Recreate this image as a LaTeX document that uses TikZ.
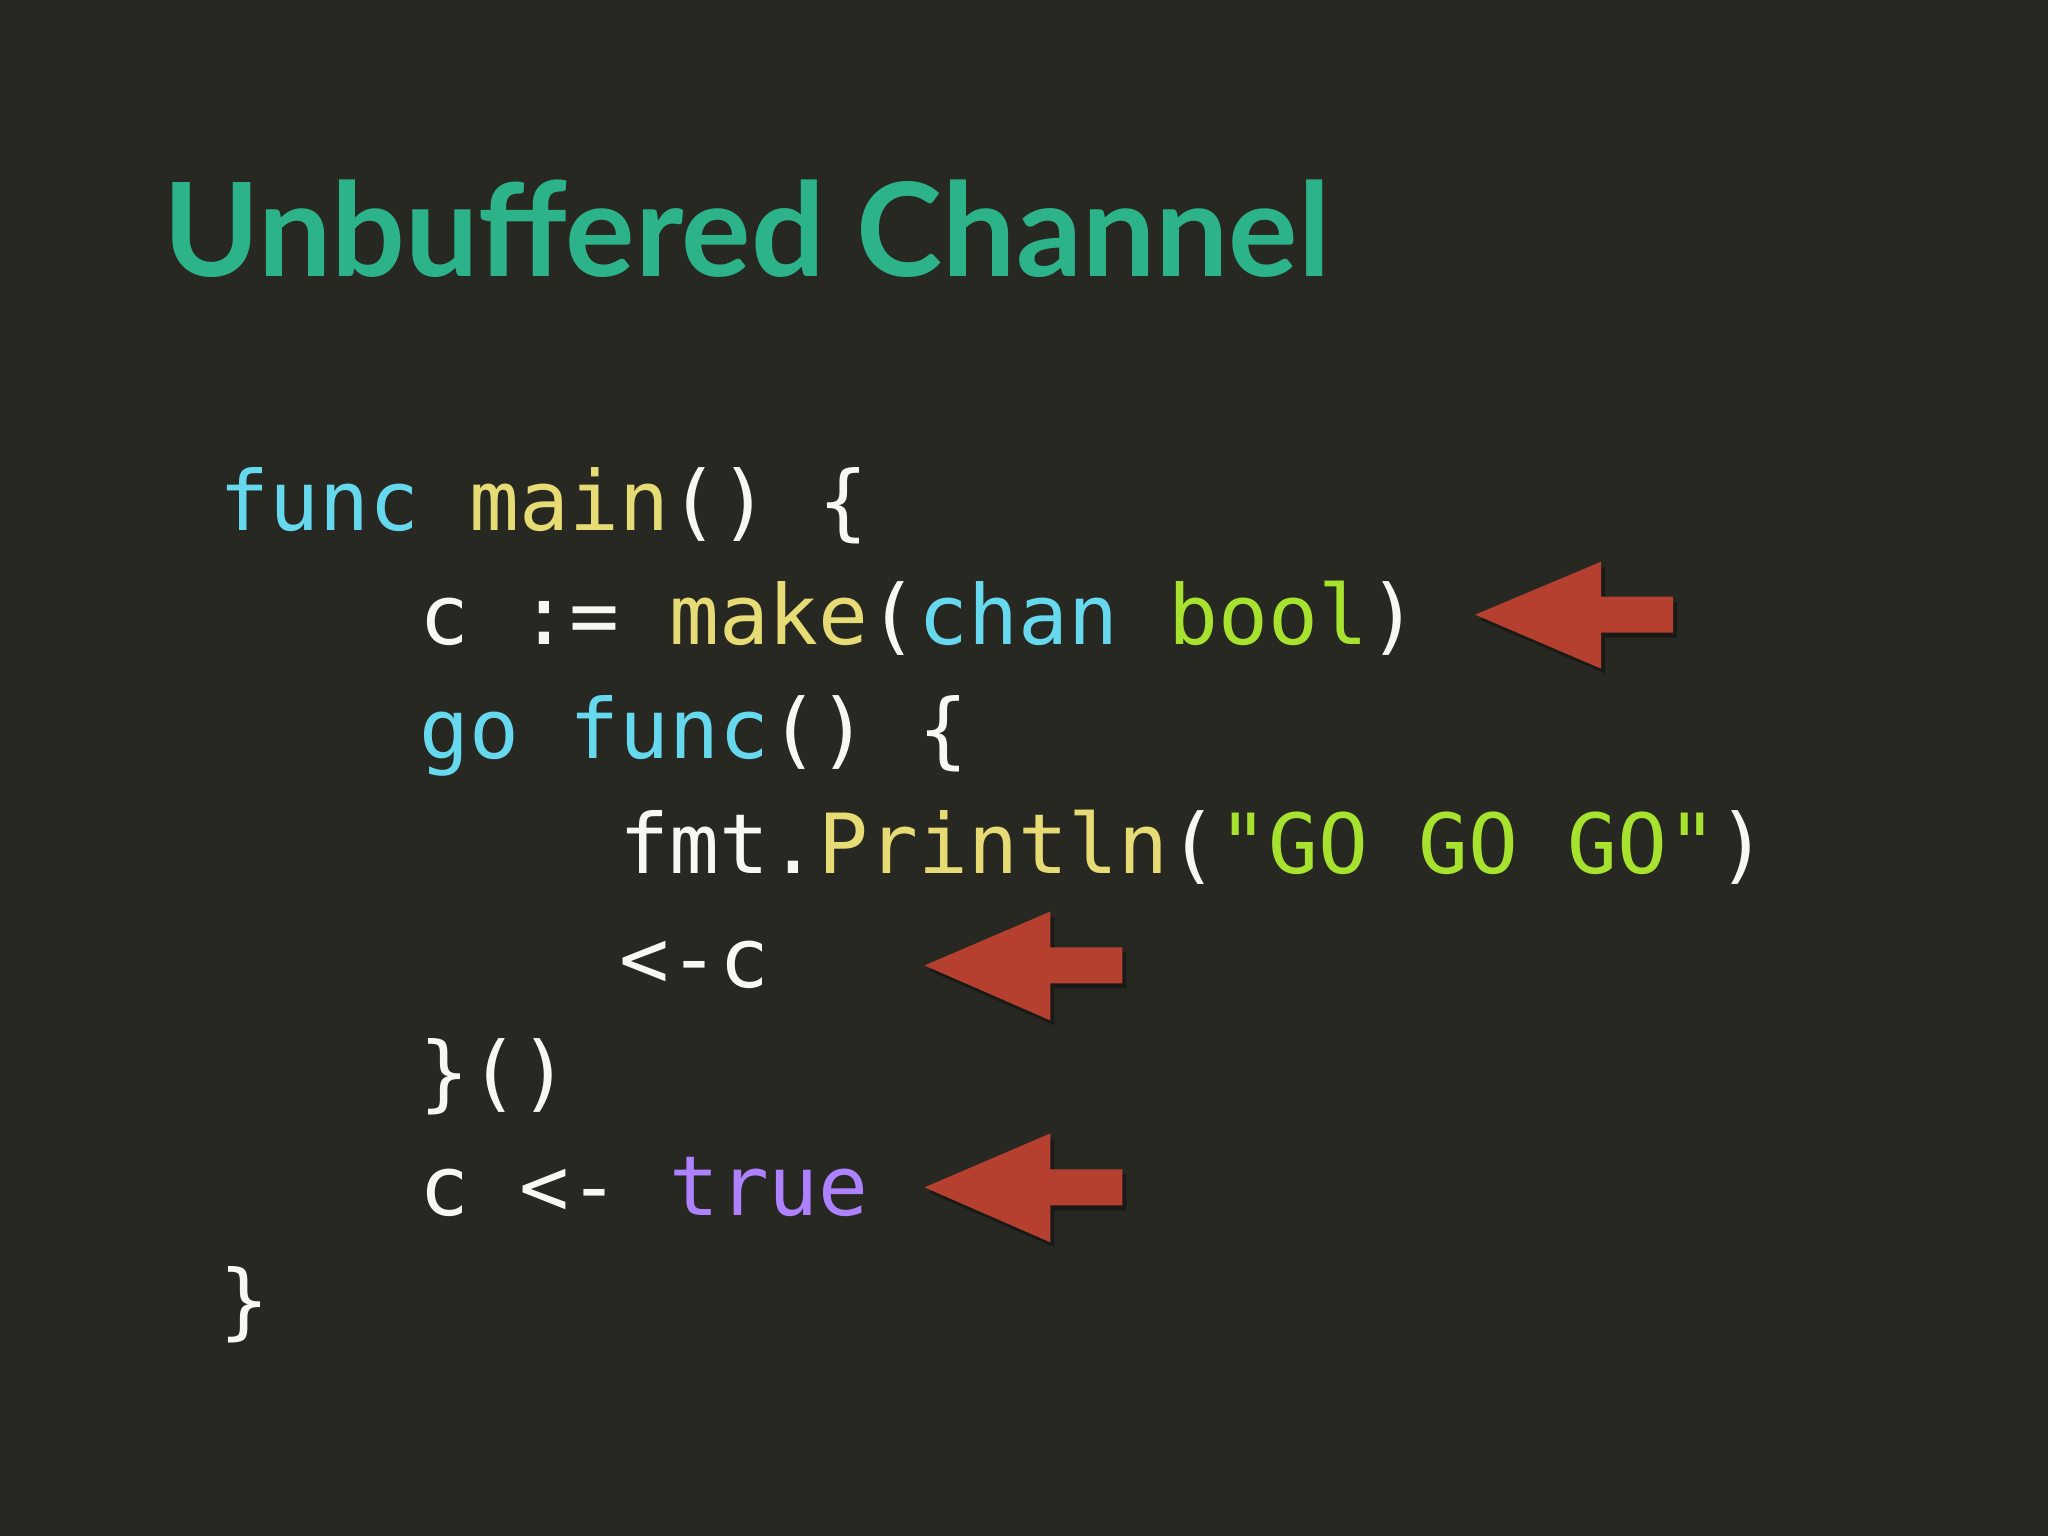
\documentclass[tikz,border=0pt]{standalone}
\usepackage{fontspec}
\setmonofont{DejaVu Sans Mono}
\newfontfamily\titlefont{Lato}
\definecolor{bg}{HTML}{272822}
\definecolor{ttl}{HTML}{2DB38A}
\definecolor{kw}{HTML}{66D9EF}
\definecolor{fn}{HTML}{E6DB74}
\definecolor{gr}{HTML}{A6E22E}
\definecolor{pu}{HTML}{AE81FF}
\definecolor{wt}{HTML}{F8F8F2}
\definecolor{arr}{HTML}{B5402F}
\tikzset{codeline/.style={anchor=base west,inner sep=0pt,text=wt,font=\ttfamily\fontsize{23.6}{28}\selectfont}}
\newcommand\redarrow[4]{% tip x, tip y, head top y, head bottom y (px)
  \fill[black,opacity=0.35] ({(#1+4)*0.01},{-(#2+5)*0.01}) -- ({(#1+130)*0.01},{-(#3+5)*0.01}) -- ({(#1+130)*0.01},{-(#2-13)*0.01}) -- ({(#1+202)*0.01},{-(#2-13)*0.01}) -- ({(#1+202)*0.01},{-(#2+23)*0.01}) -- ({(#1+130)*0.01},{-(#2+23)*0.01}) -- ({(#1+130)*0.01},{-(#4+5)*0.01}) -- cycle;
  \fill[arr] ({#1*0.01},{-#2*0.01}) -- ({(#1+126)*0.01},{-#3*0.01}) -- ({(#1+126)*0.01},{-(#2-18)*0.01}) -- ({(#1+198)*0.01},{-(#2-18)*0.01}) -- ({(#1+198)*0.01},{-(#2+18)*0.01}) -- ({(#1+126)*0.01},{-(#2+18)*0.01}) -- ({(#1+126)*0.01},{-#4*0.01}) -- cycle;}
\begin{document}
\begin{tikzpicture}
\fill[bg] (0,0) rectangle (20.48,-15.36);
\useasboundingbox (0,0) rectangle (20.48,-15.36);
\node[anchor=base west,inner sep=0pt,text=ttl,font=\titlefont\bfseries\fontsize{37}{40}\selectfont] (title) at (1.63,-2.77) {Unbuffered Channel};
\node[codeline] (l1) at (2.19,-5.31) {\textcolor{kw}{func} \textcolor{fn}{main}() \{};
\node[codeline] (l2) at (2.19,-6.45) {\ \ \ \ c := \textcolor{fn}{make}(\textcolor{kw}{chan} \textcolor{gr}{bool})};
\node[codeline] (l3) at (2.19,-7.59) {\ \ \ \ \textcolor{kw}{go} \textcolor{kw}{func}() \{};
\node[codeline] (l4) at (2.19,-8.73) {\ \ \ \ \ \ \ \ fmt.\textcolor{fn}{Println}(\textcolor{gr}{"GO GO GO"})};
\node[codeline] (l5) at (2.19,-9.87) {\ \ \ \ \ \ \ \ <-c};
\node[codeline] (l6) at (2.19,-11.01) {\ \ \ \ \}()};
\node[codeline] (l7) at (2.19,-12.15) {\ \ \ \ c <- \textcolor{pu}{true}};
\node[codeline] (l8) at (2.19,-13.29) {\}};
\redarrow{1476}{615}{562}{669}
\redarrow{925}{966}{912}{1021}
\redarrow{925}{1188}{1134}{1243}
\end{tikzpicture}
\end{document}
